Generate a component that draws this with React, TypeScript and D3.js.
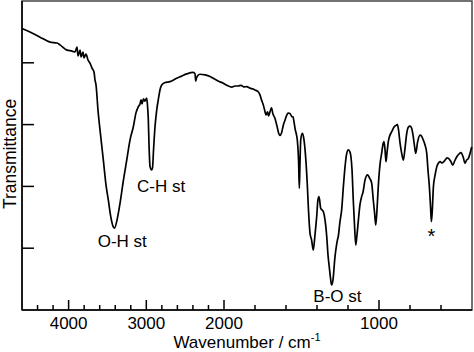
import React from 'react';
import * as d3 from 'd3';

// IR spectrum: wavenumber (cm-1) and transmittance (arb. %, 0-100)
const wavenumbers = [
  4600, 4497, 4368, 4239, 4149, 4111, 4021, 3956, 3918, 3892, 3879, 3853, 3840, 3815, 3802, 3776, 3750, 3725,
  3699, 3673, 3660, 3647, 3622, 3596, 3553, 3519, 3489, 3461, 3425, 3409, 3377, 3338, 3300, 3252, 3210, 3167,
  3133, 3103, 3081, 3068, 3055, 3036, 3017, 2995, 2985, 2974, 2965, 2952, 2931, 2920, 2907, 2888, 2866, 2846,
  2824, 2802, 2760, 2695, 2609, 2553, 2480, 2395, 2373, 2364, 2354, 2341, 2309, 2245, 2180, 2138, 2077, 2009,
  1981, 1950, 1929, 1908, 1890, 1871, 1854, 1832, 1813, 1800, 1781, 1768, 1758, 1746, 1735, 1729, 1719, 1713,
  1703, 1694, 1684, 1671, 1658, 1650, 1639, 1629, 1617, 1606, 1595, 1585, 1574, 1563, 1555, 1548, 1542, 1532,
  1527, 1519, 1514, 1510, 1505, 1495, 1487, 1477, 1463, 1455, 1445, 1435, 1424, 1413, 1402, 1394, 1387, 1376,
  1368, 1359, 1348, 1337, 1329, 1321, 1313, 1306, 1297, 1284, 1274, 1268, 1263, 1252, 1241, 1229, 1219, 1210,
  1198, 1187, 1181, 1174, 1166, 1158, 1150, 1142, 1133, 1123, 1112, 1103, 1090, 1081, 1073, 1061, 1047, 1037,
  1029, 1021, 1013, 1004, 994, 983, 974, 968, 961, 955, 948, 940, 929, 918, 903, 886, 881, 874,
  864, 855, 843, 832, 821, 810, 800, 790, 779, 771, 763, 751, 735, 726, 714, 703, 692, 684,
  675, 668, 662, 656, 649, 638, 627, 616, 606, 593, 574, 561, 553, 538, 524, 512, 498, 483,
  472, 457, 445, 435, 423, 412, 402,
];
const transmittance = [
  91.1, 90.0, 88.3, 86.7, 86.4, 85.8, 84.1, 83.8, 83.5, 85.1, 82.2, 84.1, 81.9, 83.5, 81.6, 82.8, 80.9, 79.9,
  78.3, 77.0, 74.4, 72.8, 64.7, 58.3, 48.5, 40.5, 35.6, 30.7, 26.9, 26.5, 29.1, 34.6, 41.1, 48.5, 55.0, 59.3,
  63.8, 65.8, 66.7, 68.0, 66.7, 68.3, 67.6, 68.6, 66.3, 61.5, 53.4, 46.4, 45.3, 46.0, 51.8, 59.3, 64.7, 68.0,
  71.2, 72.8, 73.6, 73.9, 75.0, 75.6, 76.4, 76.9, 76.4, 74.1, 75.1, 75.7, 76.3, 76.1, 75.6, 75.0, 74.1, 73.4,
  72.7, 72.1, 72.5, 72.5, 72.7, 72.2, 72.3, 71.8, 71.5, 71.2, 70.7, 69.6, 68.0, 66.3, 64.1, 63.1, 64.1, 62.8,
  64.2, 65.4, 63.4, 62.0, 59.5, 57.7, 56.5, 57.3, 59.9, 61.5, 63.1, 63.7, 63.6, 62.6, 62.5, 60.8, 58.8, 56.6,
  55.0, 48.5, 39.4, 46.9, 55.0, 57.2, 56.0, 51.8, 41.0, 32.4, 24.8, 22.7, 19.4, 24.3, 30.2, 35.6, 36.7, 32.9,
  32.4, 31.8, 29.1, 23.7, 17.8, 14.0, 10.4, 8.1, 9.7, 17.2, 21.0, 22.7, 23.7, 28.5, 32.4, 40.5, 46.4, 50.2,
  51.8, 51.1, 49.6, 45.3, 35.6, 27.5, 21.0, 24.3, 29.1, 34.0, 36.7, 38.2, 42.1, 43.4, 43.7, 42.7, 41.0, 35.6,
  31.7, 27.5, 32.4, 40.5, 46.9, 50.7, 53.7, 54.5, 51.8, 48.0, 51.1, 54.5, 56.6, 57.7, 59.2, 59.9, 60.0, 58.3,
  53.9, 51.1, 48.5, 52.4, 57.2, 59.2, 59.5, 58.9, 56.1, 53.1, 50.7, 54.4, 56.6, 56.3, 55.0, 53.4, 50.7, 45.3,
  39.9, 34.0, 28.6, 32.4, 39.9, 43.7, 46.4, 47.6, 48.0, 47.6, 48.5, 49.2, 49.1, 48.2, 46.9, 48.2, 49.6, 50.5,
  50.9, 49.5, 47.5, 48.5, 49.1, 50.8, 52.8,
];

const majorTicks = [4000, 3000, 2000, 1000];
const minorTicks = [4400, 4200, 3800, 3600, 3400, 3200, 2800, 2600, 2400, 2200, 1800, 1600, 1400, 1200, 800, 600];
const yTicks = [20, 40, 60, 80];

const annotations = [
  { text: 'O-H st', w: 3310, t: 20.4, size: 17 },
  { text: 'C-H st', w: 2810, t: 38.2, size: 17 },
  { text: 'B-O st', w: 1268, t: 2.7, size: 17 },
  { text: '*', w: 662, t: 21.7, size: 20 },
];

const W = 474;
const H = 352;
const plot = { left: 22, right: 472, top: 1, bottom: 310 };
const font = '"Liberation Sans", Arial, sans-serif';

export default function App() {
  // split wavenumber axis: scale doubles below 2000 cm-1
  const x = d3.scaleLinear().domain([4600, 2000, 400]).range([plot.left, 224, plot.right]);
  const y = d3.scaleLinear().domain([0, 100]).range([plot.bottom, plot.top]);

  const pts = wavenumbers.map((w, i) => [w, transmittance[i]] as [number, number]);
  const line = d3.line<[number, number]>()
    .x(d => x(d[0]))
    .y(d => y(d[1]))
    .curve(d3.curveMonotoneX);

  return (
    <div style={{ position: 'fixed', left: 0, top: 0 }}>
      <svg width={W} height={H} style={{ display: 'block', background: '#fff' }} fontFamily={font}>
        <rect x={plot.left} y={plot.top} width={plot.right - plot.left} height={plot.bottom - plot.top}
          fill="none" stroke="#444" strokeWidth={1.5} />
        <line x1={plot.left} x2={plot.left} y1={plot.top} y2={plot.bottom} stroke="#000" strokeWidth={1.5} />
        <line x1={plot.left} x2={plot.right} y1={plot.bottom} y2={plot.bottom} stroke="#000" strokeWidth={1.5} />

        {yTicks.map(t => (
          <line key={t} x1={plot.left} x2={plot.left + 12} y1={y(t)} y2={y(t)} stroke="#000" strokeWidth={1.5} />
        ))}
        {majorTicks.map(t => (
          <g key={t}>
            <line x1={x(t)} x2={x(t)} y1={plot.bottom} y2={plot.bottom - 10} stroke="#000" strokeWidth={1.5} />
            <text x={x(t)} y={329} textAnchor="middle" fontSize={17}>{t}</text>
          </g>
        ))}
        {minorTicks.map(t => (
          <line key={t} x1={x(t)} x2={x(t)} y1={plot.bottom} y2={plot.bottom - 5} stroke="#000" strokeWidth={1.5} />
        ))}

        <path d={line(pts) || ''} fill="none" stroke="#000" strokeWidth={1.7} strokeLinejoin="round" />

        {annotations.map(a => (
          <text key={a.text} x={x(a.w)} y={y(a.t)} textAnchor="middle" fontSize={a.size}>{a.text}</text>
        ))}

        <text x={(plot.left + plot.right) / 2} y={348} textAnchor="middle" fontSize={17}>
          Wavenumber / cm<tspan fontSize={11} dy={-7}>-1</tspan>
        </text>
        <text transform={`translate(15.5,154) rotate(-90)`} textAnchor="middle" fontSize={17.5}>Transmittance</text>
      </svg>
    </div>
  );
}
